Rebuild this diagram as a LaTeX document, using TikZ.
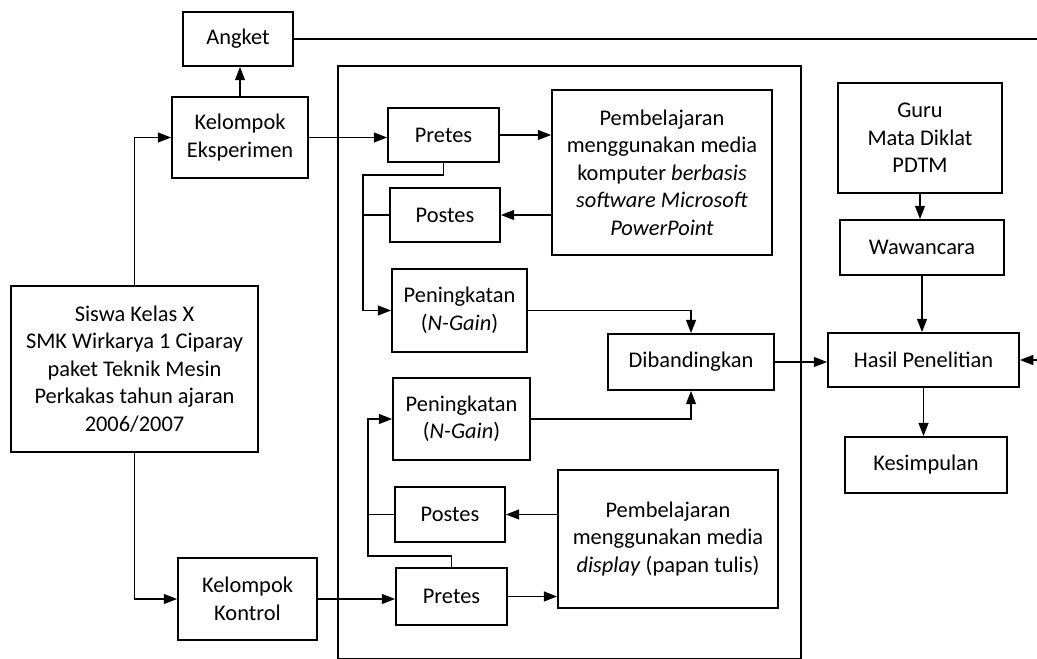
\documentclass[tikz,border=0pt]{standalone}
\usepackage{fontspec}
\setmainfont{Carlito}
\usetikzlibrary{arrows.meta}
\begin{document}
\begin{tikzpicture}[x=0.75pt,y=-0.75pt,
  box/.style={draw, line width=1.35pt, align=center, inner sep=0pt,
    font=\fontsize{16.8}{20.6}\selectfont},
  conn/.style={line width=1.1pt},
  arr/.style={line width=1.1pt, -{Triangle[length=10pt,width=7.5pt]}},
  frame/.style={line width=1.2pt}]
\useasboundingbox (0,0) rectangle (1037,659);
% group frame
\draw[frame] (338,66) rectangle (801,658.6);
% nodes
\node[box, minimum width=82.5pt, minimum height=40.5pt] (angket) at (238,39) {Angket};
\node[box, minimum width=102pt, minimum height=60.75pt] (ke) at (240,137.5) {Kelompok\\Eksperimen};
\node[box, minimum width=185.25pt, minimum height=124.5pt] (siswa) at (134.5,369) {Siswa Kelas X\\SMK Wirkarya 1 Ciparay\\paket Teknik Mesin\\Perkakas tahun ajaran\\2006/2007};
\node[box, minimum width=104.25pt, minimum height=61.5pt] (kk) at (247.5,599) {Kelompok\\Kontrol};
\node[box, minimum width=83.25pt, minimum height=40.5pt] (pretesA) at (443.5,135) {Pretes};
\node[box, minimum width=82.5pt, minimum height=40.5pt] (postesA) at (445,215) {Postes};
\node[box, minimum width=101.25pt, minimum height=62.25pt] (penA) at (459.5,310.5) {Peningkatan\\(\textit{N-Gain})};
\node[box, minimum width=165pt, minimum height=123.75pt] (pembA) at (662,172.5) {Pembelajaran\\menggunakan media\\komputer \textit{berbasis}\\\textit{software Microsoft}\\\textit{PowerPoint}};
\node[box, minimum width=102.75pt, minimum height=61.5pt] (penB) at (461.5,419) {Peningkatan\\(\textit{N-Gain})};
\node[box, minimum width=82.5pt, minimum height=41.25pt] (postesB) at (450,514.5) {Postes};
\node[box, minimum width=83.25pt, minimum height=42.75pt] (pretesB) at (451.5,596.5) {Pretes};
\node[box, minimum width=165pt, minimum height=103.5pt] (pembB) at (668,539) {Pembelajaran\\menggunakan media\\\textit{display} (papan tulis)};
\node[box, minimum width=124.5pt, minimum height=42pt] (dib) at (691,362) {Dibandingkan};
\node[box, minimum width=123pt, minimum height=82.5pt] (guru) at (920,138) {Guru\\Mata Diklat\\PDTM};
\node[box, minimum width=123pt, minimum height=41.25pt] (waw) at (922,247.5) {Wawancara};
\node[box, minimum width=143.25pt, minimum height=40.5pt] (hasil) at (923.5,360) {Hasil Penelitian};
\node[box, minimum width=121.5pt, minimum height=42pt] (kes) at (926,465) {Kesimpulan};
% free ends and junctions
\coordinate (rout) at (1037,39);
\coordinate (rin) at (1037,360);
\coordinate (jA) at (363,310.5);
\coordinate (jB) at (368,419);
% connectors
\draw[conn] (angket.east) -- (rout);
\draw[arr] (rin) -- (hasil.east);
\draw[arr] (ke.north) -- (ke.north |- angket.south);
\draw[arr] (siswa.north) |- (ke.west);
\draw[arr] (siswa.south) |- (kk.west);
\draw[arr] (ke.east) -- (ke.east -| pretesA.west);
\draw[arr] (pretesA.east) -- (pretesA.east -| pembA.west);
\draw[arr] (postesA.east -| pembA.west) -- (postesA.east);
\draw[arr] (pretesA.south) -- ++(0,12) -| (jA) -- (penA.west);
\draw[conn] (postesA.west) -- (postesA.west -| jA);
\draw[arr] (penA.east) -| (dib.north);
\draw[arr] (penB.east) -| (dib.south);
\draw[arr] (dib.east) -- (dib.east -| hasil.west);
\draw[arr] (guru.south) -- (guru.south |- waw.north);
\draw[arr] (waw.south) -- (waw.south |- hasil.north);
\draw[arr] (hasil.south) -- (hasil.south |- kes.north);
\draw[arr] (kk.east) -- (kk.east -| pretesB.west);
\draw[arr] (pretesB.east) -- (pretesB.east -| pembB.west);
\draw[arr] (postesB.east -| pembB.west) -- (postesB.east);
\draw[arr] (pretesB.north) -- ++(0,-11) -| (jB) -- (penB.west);
\draw[conn] (postesB.west) -- (postesB.west -| jB);
\end{tikzpicture}
\end{document}
